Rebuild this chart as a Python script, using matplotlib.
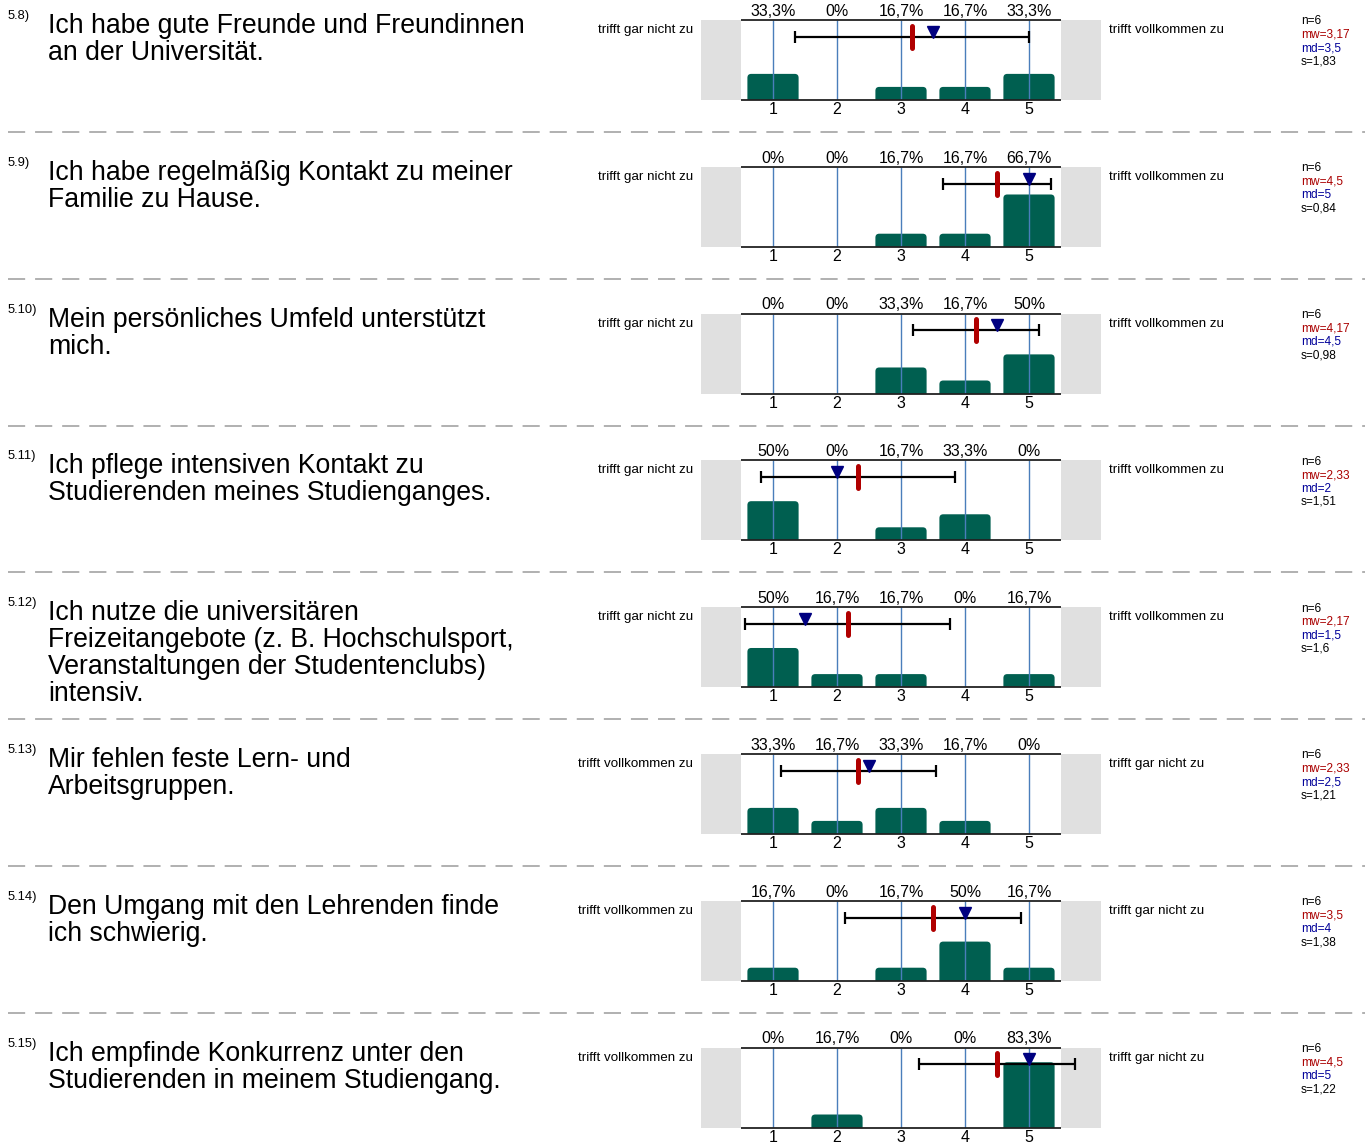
import numpy as np
import matplotlib.pyplot as plt
from matplotlib.patches import FancyBboxPatch, Rectangle

plt.rcParams['font.family'] = ['Liberation Sans', 'DejaVu Sans']

W, H = 1369, 1144

numbers = ["5.8)", "5.9)", "5.10)", "5.11)", "5.12)", "5.13)", "5.14)", "5.15)"]
questions = [
    "Ich habe gute Freunde und Freundinnen\nan der Universität.",
    "Ich habe regelmäßig Kontakt zu meiner\nFamilie zu Hause.",
    "Mein persönliches Umfeld unterstützt\nmich.",
    "Ich pflege intensiven Kontakt zu\nStudierenden meines Studienganges.",
    "Ich nutze die universitären\nFreizeitangebote (z. B. Hochschulsport,\nVeranstaltungen der Studentenclubs)\nintensiv.",
    "Mir fehlen feste Lern- und\nArbeitsgruppen.",
    "Den Umgang mit den Lehrenden finde\nich schwierig.",
    "Ich empfinde Konkurrenz unter den\nStudierenden in meinem Studiengang.",
]
percents = [
    [33.3, 0, 16.7, 16.7, 33.3],
    [0, 0, 16.7, 16.7, 66.7],
    [0, 0, 33.3, 16.7, 50],
    [50, 0, 16.7, 33.3, 0],
    [50, 16.7, 16.7, 0, 16.7],
    [33.3, 16.7, 33.3, 16.7, 0],
    [16.7, 0, 16.7, 50, 16.7],
    [0, 16.7, 0, 0, 83.3],
]
n_vals = [6, 6, 6, 6, 6, 6, 6, 6]
mw_vals = [3.17, 4.5, 4.17, 2.33, 2.17, 2.33, 3.5, 4.5]
md_vals = [3.5, 5, 4.5, 2, 1.5, 2.5, 4, 5]
s_vals = [1.83, 0.84, 0.98, 1.51, 1.6, 1.21, 1.38, 1.22]
left_labels = ["trifft gar nicht zu"] * 5 + ["trifft vollkommen zu"] * 3
right_labels = ["trifft vollkommen zu"] * 5 + ["trifft gar nicht zu"] * 3
scale = [1, 2, 3, 4, 5]

BAR = '#005f50'
VLINE = '#4a7ebb'
GRAY = '#e0e0e0'
RED = '#b00000'
NAVY = '#000080'


def fmt(v):
    s = ("%.2f" % v).rstrip('0').rstrip('.')
    return s.replace('.', ',')


def pct(v):
    return (("%.1f" % v).rstrip('0').rstrip('.')).replace('.', ',') + "%"


fig = plt.figure(figsize=(W / 100, H / 100), dpi=100)


def fx(x):
    return x / W


def fy(y):
    return 1 - y / H


row_h = 146.8
YMAX = 102
for i in range(8):
    T = 20 + i * row_h
    ax = fig.add_axes([fx(701), fy(T + 80), 400 / W, 80 / H])
    ax.set_xlim(-0.125, 6.125)
    ax.set_ylim(0, YMAX)
    for sp in ax.spines.values():
        sp.set_visible(False)
    ax.set_yticks([])
    ax.set_xticks(scale)
    ax.set_xticklabels([str(v) for v in scale], fontsize=11.5)
    ax.tick_params(axis='x', length=0, pad=1.5)

    # grey side boxes
    ax.add_patch(Rectangle((-0.125, 0), 0.625, YMAX, color=GRAY, lw=0, zorder=0))
    ax.add_patch(Rectangle((5.5, 0), 0.625, YMAX, color=GRAY, lw=0, zorder=0))

    # bars with rounded tops
    bars = ax.bar(scale, percents[i], width=0.8, color=BAR)
    for r in bars:
        h = r.get_height()
        if h > 0:
            ax.add_patch(FancyBboxPatch((r.get_x(), -8), r.get_width(), h + 8,
                                        boxstyle="round,pad=0,rounding_size=0.06",
                                        mutation_aspect=82, fc=BAR, ec='none', zorder=2))
        r.remove()

    ax.vlines(scale, 0, YMAX, color=VLINE, lw=1, zorder=3)
    ax.hlines([0, YMAX], 0.5, 5.5, color='#222222', lw=1.3, zorder=4, clip_on=False)

    for x, p in zip(scale, percents[i]):
        ax.text(x, YMAX + 1.5, pct(p), ha='center', va='bottom', fontsize=11.5)

    ybar = 80.5
    ax.errorbar(mw_vals[i], ybar, xerr=s_vals[i], fmt='none', ecolor='black',
                elinewidth=1.6, capsize=4.2, capthick=1.6, zorder=5, clip_on=False)
    ax.plot([mw_vals[i], mw_vals[i]], [66.5, 94.5], color=RED, lw=3.6,
            solid_capstyle='round', zorder=6, clip_on=False)
    ax.plot([md_vals[i]], [87], marker='v', color=NAVY, markersize=8.5,
            zorder=7, clip_on=False)

    # texts
    fig.text(fx(8), fy(T - 4), numbers[i], fontsize=9.3, va='center', ha='left')
    fig.text(fx(48), fy(T - 7), questions[i], fontsize=19.2, va='top', ha='left',
             linespacing=1.05)
    fig.text(fx(693), fy(T + 10), left_labels[i], fontsize=9.6, va='center', ha='right')
    fig.text(fx(1109), fy(T + 10), right_labels[i], fontsize=9.6, va='center', ha='left')
    stats = [("n=%d" % n_vals[i], 'black'), ("mw=" + fmt(mw_vals[i]), '#aa0000'),
             ("md=" + fmt(md_vals[i]), '#000099'), ("s=" + fmt(s_vals[i]), 'black')]
    for k, (t, c) in enumerate(stats):
        fig.text(fx(1301), fy(T + 1.5 + k * 13.3), t, fontsize=8.6, color=c,
                 va='center', ha='left')

    if i < 7:
        ys = T + 112
        fig.add_artist(plt.Line2D([fx(8), fx(1365)], [fy(ys), fy(ys)], color='#aaaaaa',
                                  lw=1.3, dashes=(9.5, 5.5), transform=fig.transFigure))

fig.savefig('out.png', dpi=100)
